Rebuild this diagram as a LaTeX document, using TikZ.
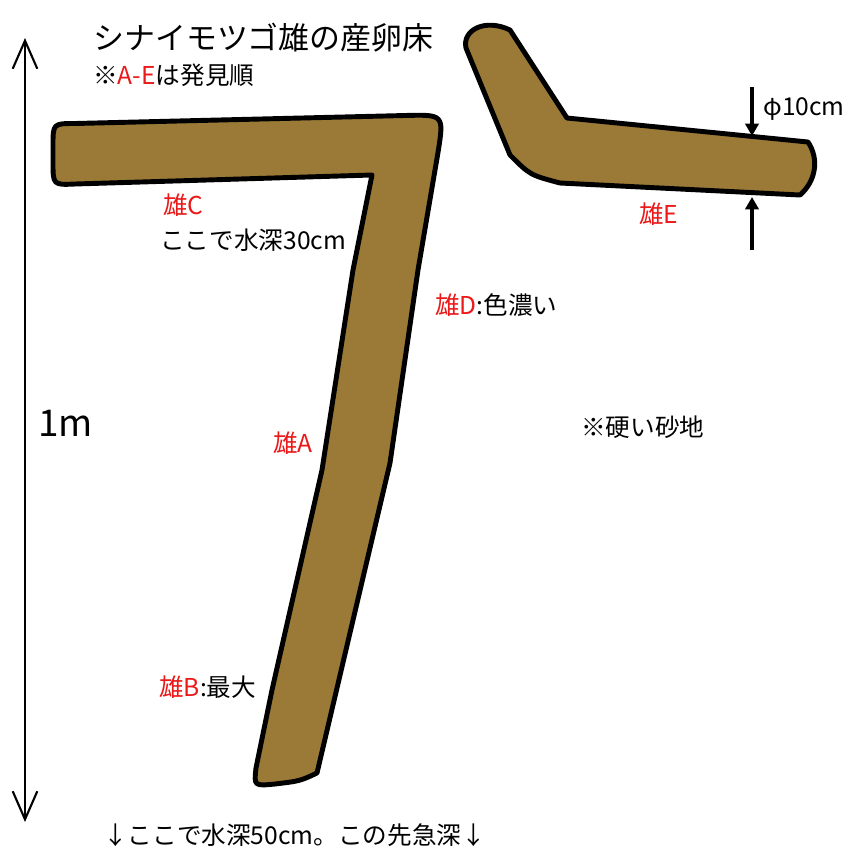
\documentclass[tikz,border=0pt]{standalone}
\usepackage{fontspec}
\setmainfont{Noto Sans CJK JP}
\usetikzlibrary{arrows.meta}
\definecolor{colLog}{RGB}{155,122,56}
\definecolor{colMale}{RGB}{235,25,25}

\begin{document}
\begin{tikzpicture}[
    lbl/.style={anchor=west, inner sep=0pt, font=\fontsize{14}{16}\selectfont},
    log/.style={draw=black, fill=colLog, line width=2.8pt, line join=round},
    dim/.style={line width=2.3pt, -{Triangle[length=7pt, width=7.5pt]}},
  ]

  \useasboundingbox (0,0) rectangle (16.94,-16.96);

  % ---- the L-shaped log (C at the top, A/B/D along the slope) ------------
  \draw[log] (1.50,-2.47) -- (8.10,-2.31)
    .. controls (8.88,-2.29) .. (8.76,-3.05)
    -- (8.36,-5.40) -- (7.80,-9.26) -- (6.34,-15.46)
    .. controls (6.00,-15.62) .. (5.50,-15.68)
    .. controls (5.08,-15.72) .. (5.12,-15.36)
    -- (5.44,-13.80) -- (6.44,-9.40) -- (7.06,-5.40) -- (7.44,-3.50)
    -- (1.50,-3.68)
    .. controls (1.06,-3.70) .. (1.06,-3.24) -- (1.06,-2.92)
    .. controls (1.06,-2.47) .. (1.50,-2.47) -- cycle;

  % ---- the bent log of E ------------------------------------------------
  \draw[log] (10.20,-0.60) -- (11.34,-2.36) -- (16.16,-2.84)
    .. controls (16.40,-3.20) and (16.30,-3.64) .. (16.00,-3.90)
    -- (11.20,-3.66)
    .. controls (10.60,-3.50) .. (10.20,-3.10)
    -- (9.32,-0.96)
    .. controls (9.24,-0.60) and (9.70,-0.36) .. (10.20,-0.60) -- cycle;

  % ---- diameter marks ---------------------------------------------------
  \coordinate (diaTop)  at (15.04,-1.74);
  \coordinate (diaTopE) at (15.04,-2.72);
  \coordinate (diaBot)  at (15.04,-5.00);
  \coordinate (diaBotE) at (15.04,-3.94);
  \draw[dim] (diaTop) -- (diaTopE);
  \draw[dim] (diaBot) -- (diaBotE);
  \node[lbl] (dia) at (15.26,-2.18) {φ10cm};

  % ---- 1 m scale --------------------------------------------------------
  \coordinate (scaleTop) at (0.50,-0.76);
  \coordinate (scaleBot) at (0.50,-16.44);
  \draw[line width=1.2pt, {Straight Barb[length=16pt, width=14pt]}-{Straight Barb[length=16pt, width=14pt]}]
    (scaleBot) -- (scaleTop);
  \node[lbl, font=\fontsize{21}{24}\selectfont] (len) at (0.76,-8.46) {1m};

  % ---- titles -----------------------------------------------------------
  \node[lbl, font=\fontsize{17.6}{20}\selectfont] (title) at (1.86,-0.76) {シナイモツゴ雄の産卵床};
  \node[lbl] (note) at (1.86,-1.50) {※\textcolor{colMale}{A-E}は発見順};

  % ---- the males --------------------------------------------------------
  \node[lbl, colMale] (maleC) at (3.26,-4.10) {雄C};
  \node[lbl] (depthC) at (3.20,-4.80) {ここで水深30cm};
  \node[lbl] (maleD) at (8.70,-6.10) {\textcolor{colMale}{雄D}:色濃い};
  \node[lbl, colMale] (maleA) at (5.46,-8.86) {雄A};
  \node[lbl] (maleB) at (3.18,-13.74) {\textcolor{colMale}{雄B}:最大};
  \node[lbl, colMale] (maleE) at (12.78,-4.28) {雄E};

  % ---- ground and depth -------------------------------------------------
  \node[lbl] (sand) at (11.62,-8.54) {※硬い砂地};
  \node[lbl] (depthB) at (2.06,-16.70) {↓ここで水深50cm。この先急深↓};

\end{tikzpicture}
\end{document}
